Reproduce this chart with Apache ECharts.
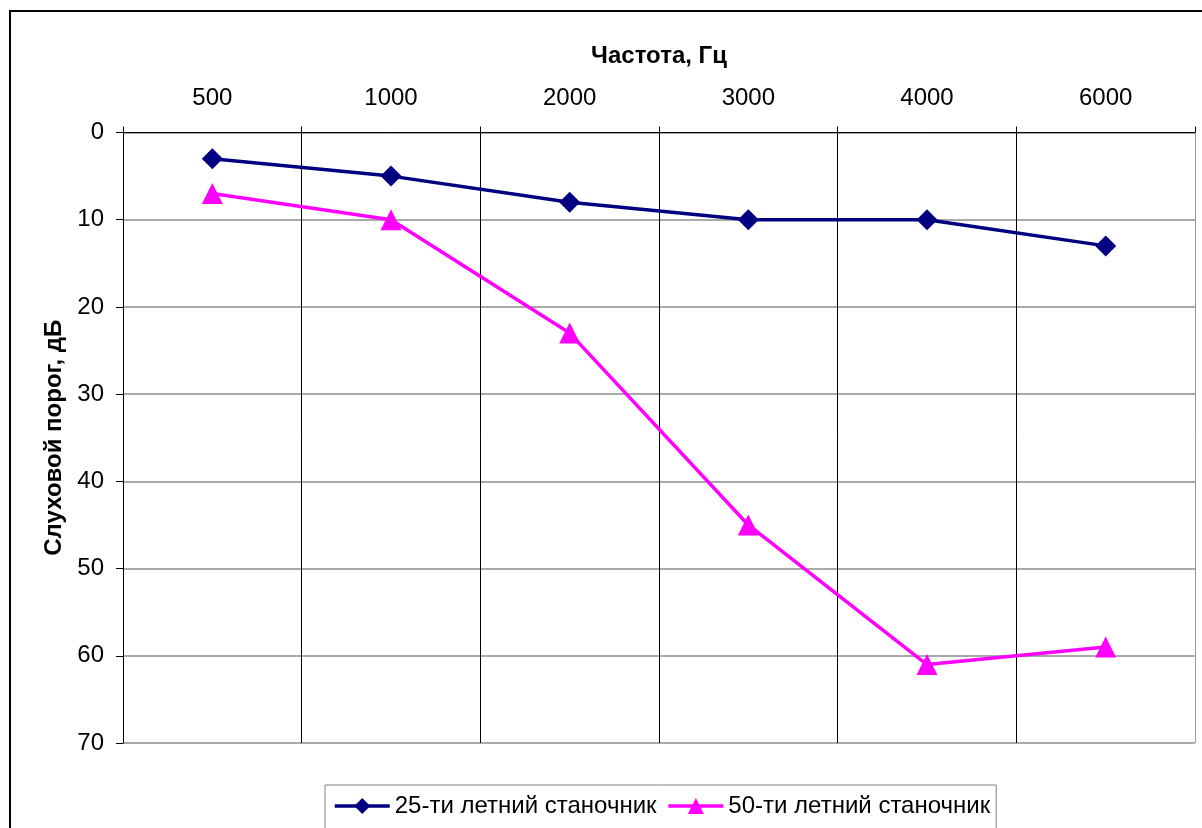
<!DOCTYPE html>
<html>
<head>
<meta charset="utf-8">
<script src="https://cdn.jsdelivr.net/npm/echarts@6/dist/echarts.min.js"></script>
<style>
  html, body { margin: 0; padding: 0; background: #fff; overflow: hidden; }
  #chart { width: 1202px; height: 828px; }
</style>
</head>
<body>
<div id="chart"></div>
<script>
// Audiogram: hearing threshold by frequency for two machine operators
const frequencies = ['500', '1000', '2000', '3000', '4000', '6000'];
const operator25 = [3, 5, 8, 10, 10, 13];
const operator50 = [7, 10, 23, 45, 61, 59];
const seriesNames = ['25-ти летний станочник', '50-ти летний станочник'];
const xTitle = 'Частота, Гц';
const yTitle = 'Слуховой порог, дБ';

const FONT = 'Liberation Sans, Arial, sans-serif';
const chart = echarts.init(document.getElementById('chart'), null, { renderer: 'canvas' });

chart.setOption({
  animation: false,
  backgroundColor: '#fff',
  graphic: [{
    type: 'rect',
    shape: { x: 10, y: 11, width: 1400, height: 1000 },
    style: { fill: 'none', stroke: '#000', lineWidth: 2 },
    silent: true,
    z: -1
  }],
  grid: { left: 123, top: 132.5, right: 7, bottom: 85, containLabel: false },
  legend: {
    left: 325,
    top: 785,
    padding: [9, 6, 30, 8],
    itemGap: 10,
    itemWidth: 55,
    itemHeight: 20,
    borderColor: '#808080',
    borderWidth: 1,
    borderRadius: 0,
    lineStyle: { width: 3.5 },
    textStyle: { fontFamily: FONT, fontSize: 24, color: '#000' },
    data: seriesNames
  },
  xAxis: {
    type: 'category',
    position: 'top',
    data: frequencies,
    boundaryGap: true,
    name: xTitle,
    nameLocation: 'middle',
    nameGap: 64,
    nameTextStyle: { fontFamily: FONT, fontSize: 24, fontWeight: 'bold', color: '#000' },
    axisLine: { show: true, lineStyle: { color: '#000', width: 1 } },
    axisTick: { show: true, inside: false, length: 6, interval: 0, alignWithLabel: false, lineStyle: { color: '#000' } },
    axisLabel: { fontFamily: FONT, fontSize: 24, color: '#000', margin: 22, interval: 0 },
    splitLine: {
      show: true,
      interval: 0,
      lineStyle: { color: ['#000', '#000', '#000', '#000', '#000', '#000', '#999'], width: 1 }
    }
  },
  yAxis: {
    type: 'value',
    inverse: true,
    min: 0,
    max: 70,
    interval: 10,
    name: yTitle,
    nameLocation: 'middle',
    nameGap: 57,
    nameRotate: 90,
    nameTextStyle: { fontFamily: FONT, fontSize: 24, fontWeight: 'bold', color: '#000' },
    axisLine: { show: true, lineStyle: { color: '#000', width: 1 } },
    axisTick: { show: true, inside: false, length: 7, lineStyle: { color: '#000' } },
    axisLabel: { fontFamily: FONT, fontSize: 24, color: '#000', margin: 19 },
    splitLine: { show: true, lineStyle: { color: '#8c8c8c', width: 1.5 } }
  },
  series: [
    {
      name: seriesNames[0],
      type: 'line',
      data: operator25,
      symbol: 'diamond',
      symbolSize: 21,
      lineStyle: { color: '#000080', width: 3.5 },
      itemStyle: { color: '#000080' },
      z: 3
    },
    {
      name: seriesNames[1],
      type: 'line',
      data: operator50,
      symbol: 'triangle',
      symbolSize: 21,
      lineStyle: { color: '#ff00ff', width: 3.5 },
      itemStyle: { color: '#ff00ff' },
      z: 2
    }
  ]
});
</script>
</body>
</html>
